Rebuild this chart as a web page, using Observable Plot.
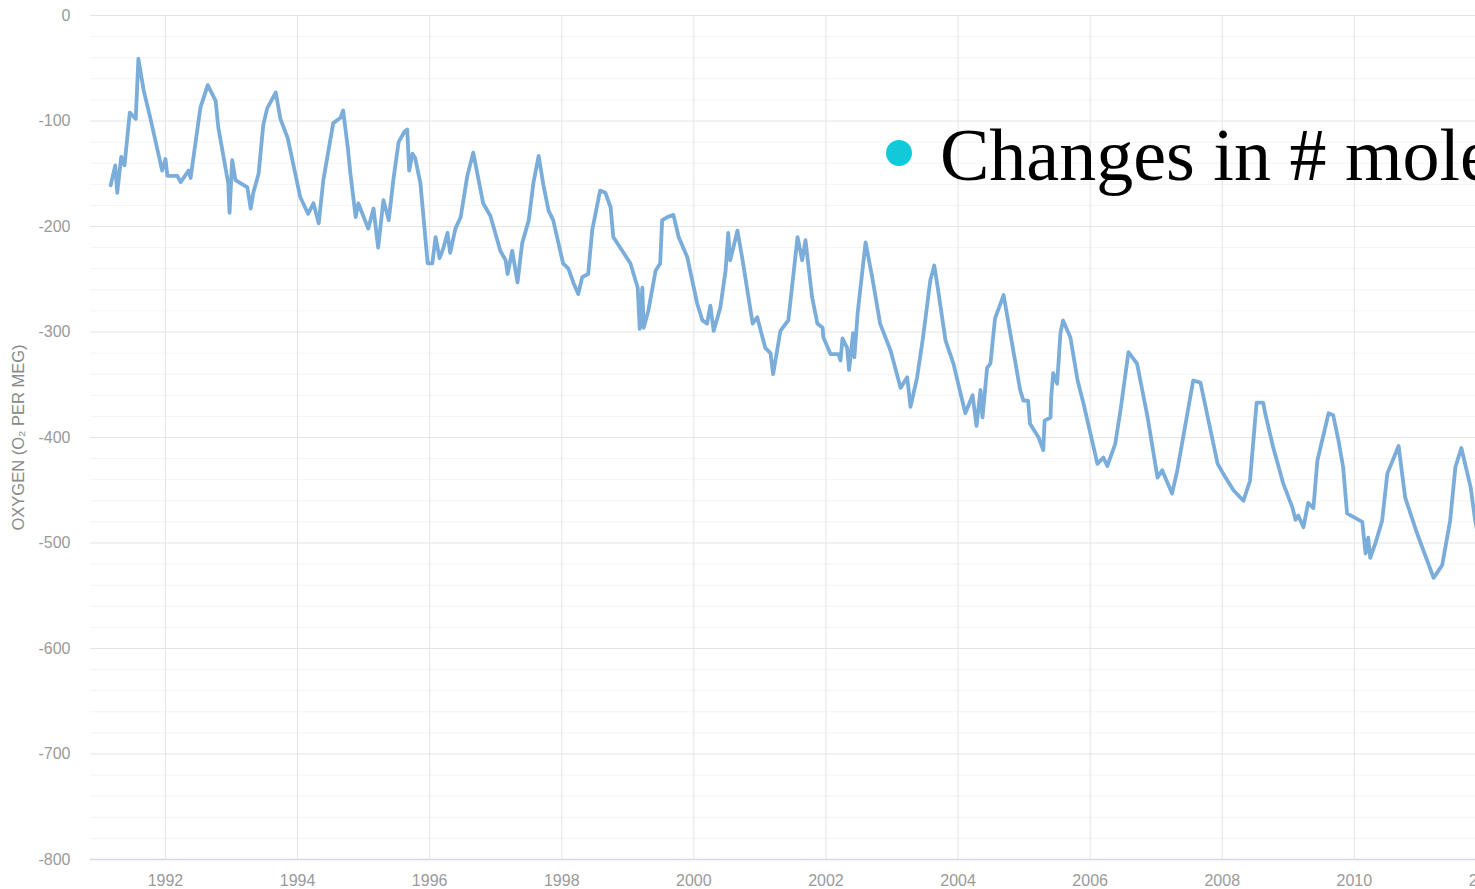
<!DOCTYPE html>
<html><head><meta charset="utf-8">
<script src="https://cdn.jsdelivr.net/npm/d3@7"></script>
<script src="https://cdn.jsdelivr.net/npm/@observablehq/plot@0.6"></script>
<style>
html,body{margin:0;padding:0;background:#fff;overflow:hidden;width:1475px;height:889px;}
#wrap{position:relative;width:1475px;height:889px;overflow:hidden;}
#chart{position:absolute;left:0;top:0;width:1560px;}
#chart svg{max-width:none !important;width:1560px !important;height:889px !important;}
.bullet{position:absolute;left:886px;top:140px;width:26px;height:26px;border-radius:50%;background:#12c9d9;}
.slide{position:absolute;left:940px;top:118px;font-family:"Liberation Serif",serif;font-size:74px;line-height:74px;color:#000;white-space:nowrap;}
</style></head>
<body><div id="wrap"><div id="chart"></div><div class="bullet"></div><div class="slide">Changes in # mole</div></div>
<script>
const years = [
1991.17,1991.24,1991.27,1991.33,1991.38,1991.46,1991.55,1991.59,1991.67,1991.77,
1991.95,1992.00,1992.03,1992.18,1992.23,1992.35,1992.38,1992.53,1992.64,1992.76,
1992.80,1992.95,1992.97,1993.01,1993.06,1993.24,1993.29,1993.33,1993.41,1993.48,
1993.54,1993.67,1993.74,1993.85,1994.04,1994.16,1994.24,1994.32,1994.39,1994.54,
1994.65,
1994.69,1994.76,1994.80,1994.88,1994.92,1995.07,1995.15,1995.22,1995.30,1995.38,
1995.45,1995.53,1995.62,1995.66,1995.69,1995.74,1995.78,1995.86,1995.97,1996.04,
1996.09,1996.15,1996.21,1996.27,1996.31,1996.39,1996.47,1996.57,1996.66,1996.81,
1996.92,1997.07,1997.15,1997.18,1997.25,1997.33,1997.40,1997.50,1997.57,1997.65,
1997.72,1997.80,1997.87,1998.02,1998.10,
1998.18,1998.25,1998.31,1998.40,1998.46,1998.58,1998.66,1998.74,1998.78,1999.04,
1999.15,1999.18,1999.22,1999.24,1999.31,1999.42,1999.49,1999.52,1999.60,1999.69,
1999.77,1999.90,2000.05,2000.13,2000.20,2000.25,2000.30,2000.40,2000.48,2000.52,
2000.55,2000.66,2000.73,2000.89,2000.96,2001.08,2001.16,2001.20,2001.31,2001.43,
2001.57,2001.64,2001.69,2001.79,2001.87,2001.95,2001.96,2002.07,2002.19,2002.22,
2002.25,2002.32,2002.35,2002.41,2002.43,2002.48,2002.60,2002.70,2002.82,2002.98,
2003.13,2003.23,2003.28,2003.38,2003.47,2003.58,2003.64,2003.70,2003.81,2003.93,
2004.11,2004.22,2004.28,2004.34,2004.37,2004.44,2004.49,2004.56,2004.69,2004.79,
2004.94,2004.99,2005.06,
2005.09,2005.22,2005.29,2005.31,2005.40,2005.41,2005.44,2005.50,2005.55,2005.59,
2005.70,2005.81,2005.90,2006.11,2006.20,2006.26,2006.38,2006.46,2006.58,2006.71,
2006.87,2007.02,2007.09,2007.24,2007.32,2007.56,2007.67,2007.93,2008.05,2008.17,
2008.32,2008.42,
2008.52,2008.62,2008.65,2008.77,2008.92,2009.06,2009.11,2009.15,2009.23,2009.30,
2009.38,2009.44,2009.61,2009.68,2009.76,2009.83,2009.89,2010.12,2010.17,2010.21,
2010.24,2010.32,2010.42,2010.50,2010.67,2010.77,2010.95,2011.20,2011.33,2011.45,
2011.53,2011.62,2011.76,2011.83,2011.91
];
const oxygen = [
-161,-142,-168,-134,-142,-92,-98,-41,-71,-97,
-147,-136,-152,-152,-158,-147,-154,-87,-66,-81,
-106,-159,-187,-137,-156,-163,-183,-168,-150,-104,
-88,-73,-98,-116,-172,-188,-178,-197,-156,-102,
-97,
-90,-125,-150,-191,-178,-202,-183,-220,-175,-194,
-156,-120,-110,-108,-147,-131,-135,-159,-235,-235,
-210,-230,-220,-206,-225,-202,-191,-152,-130,-178,
-190,-223,-232,-245,-223,-253,-216,-194,-159,-133,
-160,-185,-194,-235,-240,
-254,-264,-248,-245,-204,-166,-168,-182,-210,-235,
-258,-297,-258,-296,-280,-242,-235,-194,-191,-189,
-210,-229,-273,-289,-292,-275,-299,-277,-242,-206,
-232,-204,-229,-292,-286,-315,-320,-340,-299,-289,
-210,-232,-213,-267,-292,-296,-305,-321,-321,-327,
-306,-315,-336,-301,-324,-282,-215,-248,-292,-318,
-353,-343,-371,-343,-305,-251,-237,-261,-308,-330,
-377,-360,-389,-355,-381,-334,-330,-287,-265,-301,
-355,-365,-365,
-387,-400,-412,-384,-381,-362,-339,-349,-301,-289,
-305,-346,-368,-425,-419,-427,-406,-374,-319,-330,
-381,-438,-431,-453,-431,-346,-348,-425,-438,-450,
-460,-441,
-367,-367,-377,-409,-443,-466,-478,-474,-485,-462,
-467,-422,-377,-379,-403,-428,-472,-480,-510,-495,
-514,-500,-479,-434,-408,-457,-491,-533,-521,-479,
-428,-410,-447,-479,-505
];
const yearTicks = [1992,1994,1996,1998,2000,2002,2004,2006,2008,2010,2012];
const majorY = [0,-100,-200,-300,-400,-500,-600,-700,-800];
const minorY = [-20,-40,-60,-80,-120,-140,-160,-180,-220,-240,-260,-280,-320,-340,-360,-380,
  -420,-440,-460,-480,-520,-540,-560,-580,-620,-640,-660,-680,-720,-740,-760,-780];
const yLabel = "OXYGEN (O\u2082 PER MEG)";

const data = years.map((t, i) => ({t, v: oxygen[i]}));

const chart = Plot.plot({
  width: 1560, height: 889,
  marginLeft: 90, marginRight: 8, marginTop: 15, marginBottom: 30,
  style: {fontFamily: "'Liberation Sans', Arial, sans-serif", fontSize: "16px", background: "transparent", maxWidth: "none"},
  x: {domain: [1990.865, 2013]},
  y: {domain: [-800, 0]},
  marks: [
    Plot.ruleY(minorY, {stroke: "#f4f4f4", strokeWidth: 1}),
    Plot.ruleY(majorY.slice(0, -1), {stroke: "#e4e4e4", strokeWidth: 1}),
    Plot.ruleX(yearTicks, {stroke: "#e4e4e4", strokeWidth: 1}),
    Plot.ruleY([-800], {stroke: "#d8d8e2", strokeWidth: 1.5}),
    Plot.axisY({ticks: majorY, tickSize: 0, tickPadding: 20, tickFormat: d => String(d), label: null, color: "#9a9a9a", fontSize: 16}),
    Plot.axisX({ticks: yearTicks, tickSize: 0, tickPadding: 15, tickFormat: d3.format("d"), label: null, color: "#9a9a9a", fontSize: 16}),
    Plot.line(data, {x: "t", y: "v", stroke: "#7aadd9", strokeWidth: 3.8, strokeLinejoin: "round"}),
    Plot.text([yLabel], {text: d => d, frameAnchor: "left", textAnchor: "middle", dx: -72, rotate: -90, fill: "#8a8a8a", fontSize: 16.5})
  ]
});
document.getElementById("chart").appendChild(chart);
</script>
</body></html>
